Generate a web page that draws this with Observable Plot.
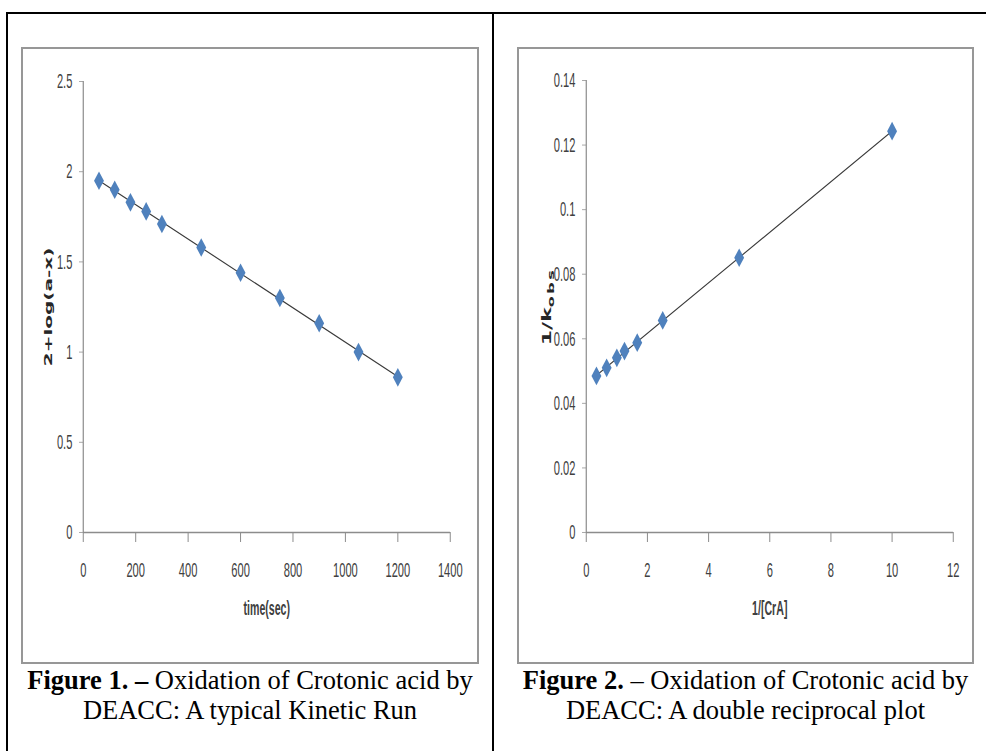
<!DOCTYPE html>
<html>
<head>
<meta charset="utf-8">
<script src="https://cdn.jsdelivr.net/npm/d3@7"></script>
<script src="https://cdn.jsdelivr.net/npm/@observablehq/plot@0.6"></script>
<style>
  html, body { margin: 0; padding: 0; background: #fff; }
  body { width: 986px; height: 751px; position: relative; overflow: hidden; }
  .outer-top { position: absolute; left: 6px; top: 12px; width: 990px; height: 2px; background: #000; }
  .outer-left { position: absolute; left: 6px; top: 12px; width: 2px; height: 760px; background: #000; }
  .outer-mid { position: absolute; left: 492px; top: 12px; width: 2px; height: 760px; background: #000; }
  .frame { position: absolute; border: 2px solid #979797; background: transparent; }
  .frame .holder { position: absolute; left: 0; top: 0; width: 1000px; }
  .frame svg { transform-origin: 0 0; display: block; max-width: none !important; }
  .caption { position: absolute; text-align: center; font-family: "Liberation Serif", "Times New Roman", serif;
             font-size: 26.5px; line-height: 30px; color: #000; white-space: nowrap; }
</style>
</head>
<body>
<div class="outer-top"></div>
<div class="outer-left"></div>
<div class="outer-mid"></div>
<div class="frame" id="f1" style="left:21px; top:47px; width:454px; height:613px;"><div class="holder" id="c1"></div></div>
<div class="frame" id="f2" style="left:517px; top:47px; width:453px; height:613px;"><div class="holder" id="c2"></div></div>
<div class="caption" style="left:7px; top:665px; width:486px;"><b>Figure 1. –</b> Oxidation of Crotonic acid by<br>DEACC: A typical Kinetic Run</div>
<div class="caption" style="left:505px; top:665px; width:481px;"><b>Figure 2.</b> – Oxidation of Crotonic acid by<br>DEACC: A double reciprocal plot</div>
<script>
// ---- Data: Figure 1 (kinetic run) ----
const timeSec = [60, 120, 180, 240, 300, 450, 600, 750, 900, 1050, 1200];
const logAX = [1.95, 1.90, 1.83, 1.78, 1.71, 1.58, 1.44, 1.30, 1.16, 1.00, 0.86];
const xTicks1 = [0, 200, 400, 600, 800, 1000, 1200, 1400];
const yTicks1 = [0, 0.5, 1, 1.5, 2, 2.5];

// ---- Data: Figure 2 (double reciprocal plot) ----
const invCrA = [0.333, 0.667, 1, 1.25, 1.667, 2.5, 5, 10];
const invKobs = [0.0485, 0.0510, 0.0541, 0.0562, 0.0588, 0.0657, 0.0851, 0.1243];
const xTicks2 = [0, 2, 4, 6, 8, 10, 12];
const yTicks2 = [0, 0.02, 0.04, 0.06, 0.08, 0.1, 0.12, 0.14];

const S = 0.53; // horizontal squeeze of the original chart images

function chart(o) {
  const data = o.xs.map((x, i) => ({x, y: o.ys[i]}));
  const svg = Plot.plot({
    width: o.W / S, height: o.H,
    marginLeft: o.mL / S, marginRight: o.mR / S, marginTop: o.mT, marginBottom: o.mB,
    style: {background: "transparent", fontFamily: "Liberation Sans, Arial, sans-serif", fontSize: "21px", color: "#404040", overflow: "visible", maxWidth: "none"},
    x: {domain: [o.xTicks[0], o.xTicks[o.xTicks.length - 1]]},
    y: {domain: [o.yTicks[0], o.yTicks[o.yTicks.length - 1]]},
    marks: [
      Plot.axisY({ticks: o.yTicks, tickSize: 7.5, tickPadding: 13, tickFormat: d => String(d), stroke: "#8c8c8c", fill: "#404040", label: null}),
      Plot.axisX({ticks: o.xTicks, tickSize: 10, tickPadding: 20, tickFormat: d => String(d), stroke: "#8c8c8c", strokeWidth: 1 / S, fill: "#404040", label: null}),
      Plot.ruleX([o.xTicks[0]], {stroke: "#8c8c8c", strokeWidth: 1.2 / S}),
      Plot.ruleY([o.yTicks[0]], {stroke: "#8c8c8c", strokeWidth: 1.5}),
      Plot.linearRegressionY(data, {x: "x", y: "y", stroke: "#3a3a3a", strokeWidth: 1.3, ci: 0}),
      Plot.dot(data, {x: "x", y: "y", symbol: "diamond2", r: 8.4, fill: "#4F81BD", stroke: "none"}),
      Plot.text([o.xLabel], {text: d => d, frameAnchor: "bottom", dy: 83, fontWeight: "bold", fontSize: 20, fill: "#404040"}),
      Plot.text([o.yLabel], {text: d => d, frameAnchor: "left", textAnchor: "middle", rotate: -90, dx: o.yDx / S, fontFamily: "DejaVu Sans, Verdana, sans-serif", fontWeight: "bold", fontSize: o.yFont, fill: "#262626"})
    ]
  });
  svg.style.transform = `scaleX(${S})`;
  svg.style.maxWidth = "none";
  svg.style.width = (o.W / S) + "px";
  svg.style.height = o.H + "px";
  return svg;
}

const svg1 = chart({xs: timeSec, ys: logAX, xTicks: xTicks1, yTicks: yTicks1,
  xLabel: "time(sec)", yLabel: "2+log(a-x)", yFont: 20, W: 454, H: 613, mL: 60, mR: 27, mT: 32, mB: 130, yDx: -35});
document.getElementById("c1").appendChild(svg1);

const svg2 = chart({xs: invCrA, ys: invKobs, xTicks: xTicks2, yTicks: yTicks2,
  xLabel: "1/[CrA]", yLabel: "1/k", yFont: 22, W: 453, H: 613, mL: 67, mR: 19, mT: 31, mB: 130, yDx: -39});
document.getElementById("c2").appendChild(svg2);

// subscript "obs" on the 1/k label
svg2.querySelectorAll("text").forEach(t => {
  if (t.textContent === "1/k") {
    const ts = document.createElementNS("http://www.w3.org/2000/svg", "tspan");
    ts.setAttribute("dy", "0.3em");
    ts.setAttribute("font-size", "16");
    ts.setAttribute("letter-spacing", "2.5");
    ts.textContent = "obs";
    t.appendChild(ts);
  }
});
</script>
</body>
</html>
